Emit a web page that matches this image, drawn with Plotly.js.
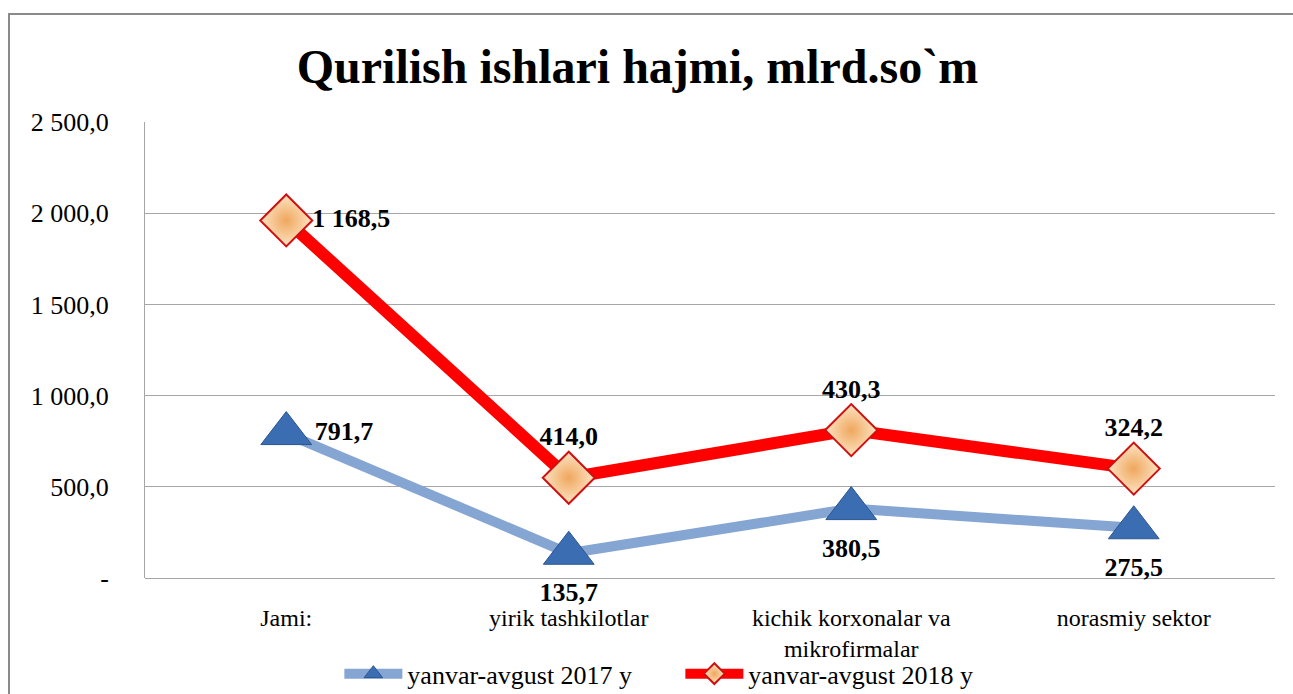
<!DOCTYPE html>
<html>
<head>
<meta charset="utf-8">
<script src="https://cdn.plot.ly/plotly-3.0.1.min.js"></script>
<style>
html,body{margin:0;padding:0;background:#fff;}
#wrap{position:relative;width:1293px;height:694px;overflow:hidden;}
#chart{position:absolute;left:0;top:0;width:1293px;height:694px;}
#frame{position:absolute;left:8px;top:13px;width:1300px;height:700px;border:2px solid #8a8a8a;box-sizing:border-box;pointer-events:none;}
</style>
</head>
<body>
<div id="wrap"><div id="chart"></div><div id="frame"></div></div>
<script>
const categories = ["Jami:", "yirik tashkilotlar", "kichik korxonalar va<br>mikrofirmalar", "norasmiy sektor"];
const values2017 = [791.7, 135.7, 380.5, 275.5];
const values2018 = [1168.5, 414.0, 430.3, 324.2];
const seriesNames = ["yanvar-avgust 2017 y", "yanvar-avgust 2018 y"];
const yTickVals = [0, 500, 1000, 1500, 2000, 2500];
const yTickText = ["-", "500,0", "1 000,0", "1 500,0", "2 000,0", "2 500,0"];

function fmt(v){
  const s = v.toFixed(1).replace('.', ',');
  const parts = s.split(',');
  parts[0] = parts[0].replace(/\B(?=(\d{3})+(?!\d))/g, ' ');
  return parts.join(',');
}

const serif = "Liberation Serif, Times New Roman, serif";

const trace2017 = {
  x: categories, y: values2017, name: seriesNames[0],
  type: 'scatter', mode: 'lines+markers+text', stackgroup: 'one', fill: 'none',
  cliponaxis: false,
  line: {color: '#85a5d3', width: 10},
  marker: {symbol: 'triangle-up', size: 44, color: '#3b6db3', line: {color: '#2c568f', width: 1}},
  text: values2017.map(fmt),
  textposition: ['middle right', 'bottom center', 'bottom center', 'bottom center'],
  textfont: {family: serif, size: 26, color: '#000', weight: 'bold'},
  hoverinfo: 'skip'
};
const trace2018 = {
  x: categories, y: values2018, name: seriesNames[1],
  type: 'scatter', mode: 'lines+markers+text', stackgroup: 'one', fill: 'none',
  cliponaxis: false,
  line: {color: '#ff0000', width: 12},
  marker: {symbol: 'diamond', size: 40, color: '#fde4c4', gradient: {type: 'radial', color: '#efa75e'}, line: {color: '#d01010', width: 2}},
  text: values2018.map(fmt),
  textposition: ['middle right', 'top center', 'top center', 'top center'],
  textfont: {family: serif, size: 26, color: '#000', weight: 'bold'},
  hoverinfo: 'skip'
};

const layout = {
  width: 1293, height: 694,
  margin: {l: 145, r: 18, t: 122, b: 116, autoexpand: false},
  paper_bgcolor: '#fff', plot_bgcolor: '#fff',
  title: {text: '<b>Qurilish ishlari hajmi, mlrd.so`m</b>', font: {family: serif, size: 48, color: '#000'}, x: 0.493, xanchor: 'center', y: 0.905, yanchor: 'middle'},
  showlegend: true,
  legend: {orientation: 'h', x: 0.172, xanchor: 'left', y: -0.21, yanchor: 'middle', bgcolor: 'rgba(0,0,0,0)', font: {family: serif, size: 26, color: '#000'}, itemwidth: 58, entrywidth: 268, entrywidthmode: 'pixels', traceorder: 'normal'},
  xaxis: {
    type: 'category', range: [-0.5, 3.5], showgrid: false, zeroline: false, automargin: false,
    showline: false, ticks: '', ticklabelstandoff: 23,
    tickfont: {family: serif, size: 24, color: '#000'}, fixedrange: true
  },
  yaxis: {
    range: [0, 2500], tickmode: 'array', tickvals: yTickVals, ticktext: yTickText, automargin: false,
    showgrid: true, gridcolor: '#a6a6a6', gridwidth: 1,
    showline: true, linecolor: '#a6a6a6', linewidth: 1,
    zeroline: true, zerolinecolor: '#a6a6a6', zerolinewidth: 1,
    ticks: '', ticklabelstandoff: 30,
    tickfont: {family: serif, size: 26, color: '#000'}, fixedrange: true
  }
};

Plotly.newPlot('chart', [trace2017, trace2018], layout, {displayModeBar: false, staticPlot: true});
</script>
</body>
</html>
